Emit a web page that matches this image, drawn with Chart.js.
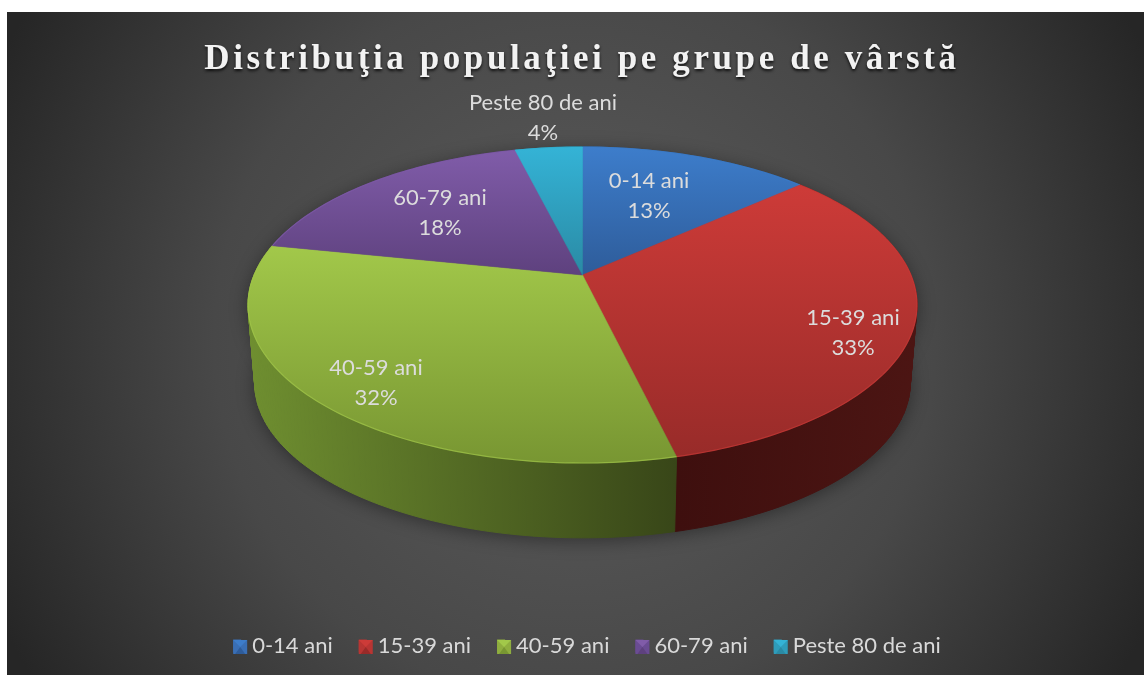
<!DOCTYPE html>
<html><head><meta charset="utf-8">
<style>html,body{margin:0;padding:0;background:#fff}#w{width:1144px;height:675px;position:relative}canvas{display:block}</style>
<script src="https://cdn.jsdelivr.net/npm/chart.js@4"></script></head>
<body><div id="w"><canvas id="c" width="1144" height="675"></canvas></div>
<script>
const categories = ['0-14 ani','15-39 ani','40-59 ani','60-79 ani','Peste 80 de ani'];
const shares = [13.4,32.85,31.95,17.9,3.9];
const titleText = 'Distribuţia populaţiei pe grupe de vârstă';
const topColors  = ['#3d7dcb','#cd3b38','#a2c84a','#805ca9','#34b3d6'];
const lowColors  = ['#2e5c9a','#982b29','#789632','#5e417e','#2a8aa4'];
const wallLight  = ['#2a5488','#3e0f0e','#6f8f30','#4f386c','#237a92'];
const wallDark   = ['#1d3a60','#4c1513','#384618','#37264c','#185466'];
const legendColors = ['#3a6fb5','#b83533','#8fae3f','#6a4c93','#2f9cba'];
const labelAnchors = [[649,195],[853,332],[376,382],[440,212],[543,117]];

// perspective of the tilted disc
const P = {cx:582.5, a:100.1, b:275, c:-0.18987, R:328.4, wallScale:0.98, ellipseCy:305, depth:78};
const legendShift = 5;
function project(u,v){const d=1+P.c*v;return [P.cx+P.R*u/d,(P.a*v+P.b)/d];}
function projectLow(u,v){const q=project(u,v);return [P.cx+(q[0]-P.cx)*P.wallScale,P.ellipseCy+(q[1]-P.ellipseCy)*P.wallScale+P.depth];}
function rim(arc,fn){const pts=[];const n=Math.max(4,Math.ceil((arc.endAngle-arc.startAngle)*50));
  for(let i=0;i<=n;i++){const t=arc.startAngle+(arc.endAngle-arc.startAngle)*i/n;pts.push(fn(Math.cos(t),Math.sin(t)));}return pts;}

const scene = {
  id:'scene',
  beforeDraw(ch){
    const x=ch.ctx;
    x.save();x.fillStyle='#fff';x.fillRect(0,0,1144,675);
    const g=x.createRadialGradient(575,340,20,575,340,640);
    g.addColorStop(0,'#5c5c5c');g.addColorStop(.55,'#484848');g.addColorStop(1,'#262626');
    x.fillStyle=g;x.fillRect(7,12,1137,663);
    x.restore();
    if(!ch.titleBlock._spaced){const t=ch.titleBlock,d=t.draw;t._spaced=true;
      t.draw=function(){const c=ch.ctx;c.save();c.shadowColor='rgba(0,0,0,.8)';c.shadowBlur=3;c.shadowOffsetY=2;c.letterSpacing='3.6px';d.call(t);c.letterSpacing='0px';c.restore();};
      const l=ch.legend,ld=l.draw;
      l.draw=function(){const c=ch.ctx;c.save();c.translate(legendShift,0);ld.call(l);c.restore();};}
  },
  beforeDatasetsDraw(ch){
    const x=ch.ctx, arcs=ch.getDatasetMeta(0).data;
    // soft shadow under the disc
    x.save();x.shadowColor='rgba(0,0,0,.4)';x.shadowBlur=18;x.shadowOffsetY=3;x.fillStyle='#333';
    x.beginPath();arcs.forEach(a=>rim(a,projectLow).forEach(p=>x.lineTo(p[0],p[1])));x.closePath();x.fill();
    x.beginPath();arcs.forEach(a=>rim(a,project).forEach(p=>x.lineTo(p[0],p[1])));x.closePath();x.fill();x.restore();
    // side wall
    arcs.forEach((a,i)=>{
      const up=rim(a,project),lo=rim(a,projectLow);
      const xs=up.map(p=>p[0]);const g=x.createLinearGradient(Math.min(...xs),0,Math.max(...xs),0);
      g.addColorStop(0,wallLight[i]);g.addColorStop(1,wallDark[i]);
      x.fillStyle=g;x.strokeStyle=g;x.lineWidth=1;
      for(let k=0;k<up.length-1;k++){x.beginPath();x.moveTo(...up[k]);x.lineTo(...up[k+1]);x.lineTo(...lo[k+1]);x.lineTo(...lo[k]);x.closePath();x.fill();x.stroke();}
    });
    // top face
    arcs.forEach((a,i)=>{
      const pts=rim(a,project);const ys=pts.map(p=>p[1]).concat(P.b);
      const g=x.createLinearGradient(0,Math.min(...ys),0,Math.max(...ys));
      g.addColorStop(0,topColors[i]);g.addColorStop(1,lowColors[i]);
      x.fillStyle=g;x.beginPath();x.moveTo(P.cx,P.b);pts.forEach(p=>x.lineTo(p[0],p[1]));x.closePath();x.fill();
      x.strokeStyle=g;x.lineWidth=.6;x.stroke();
      x.strokeStyle=topColors[i];x.globalAlpha=.7;x.lineWidth=1.2;x.beginPath();pts.forEach(p=>x.lineTo(p[0],p[1]));x.stroke();x.globalAlpha=1;
    });
    return false;
  },
  afterDraw(ch){
    const x=ch.ctx;
    x.save();x.textAlign='center';x.textBaseline='middle';x.font='22px Lato';x.fillStyle='#dcdcdc';
    const tot=shares.reduce((s,v)=>s+v,0);
    categories.forEach((c,i)=>{
      const q=labelAnchors[i];
      x.fillText(c,q[0],q[1]-14);x.fillText(Math.round(shares[i]/tot*100)+'%',q[0],q[1]+16);
    });
    // bevels on the legend keys
    ch.legend.legendHitBoxes.forEach((b,i)=>{
      const s=14,l=b.left+legendShift,t=b.top+(b.height-s)/2+1;
      x.fillStyle=legendColors[i];x.fillRect(l,t,s,s);
      x.fillStyle=topColors[i];x.beginPath();x.moveTo(l,t);x.lineTo(l+s,t);x.lineTo(l+s/2,t+s/2);x.closePath();x.fill();
      x.fillStyle=lowColors[i];x.beginPath();x.moveTo(l+2,t+s);x.lineTo(l+s-2,t+s);x.lineTo(l+s/2,t+s/2);x.closePath();x.fill();
    });
    x.restore();
  }
};

new Chart(document.getElementById('c'),{
  type:'pie',
  data:{labels:categories,datasets:[{data:shares,backgroundColor:legendColors,borderWidth:0}]},
  plugins:[scene],
  options:{
    responsive:false,animation:false,
    layout:{padding:{left:20,top:37,bottom:8,right:0}},
    plugins:{
      tooltip:{enabled:false},
      title:{display:true,text:titleText,color:'#f2f2f2',font:{family:'"Liberation Serif"',size:35,weight:'bold'},padding:{top:2,bottom:20}},
      legend:{position:'bottom',labels:{color:'#d9d9d9',font:{family:'Lato',size:22},boxWidth:8,boxHeight:13,padding:26}}
    }
  }
});
</script></body></html>
